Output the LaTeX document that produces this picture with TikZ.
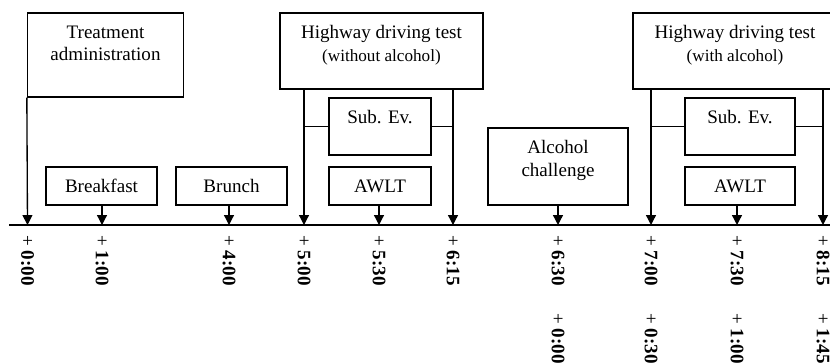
\documentclass[tikz,border=0pt]{standalone}
\usepackage{fontspec}
\setmainfont{Liberation Serif}
\usetikzlibrary{arrows.meta}
\usetikzlibrary{positioning}
\usetikzlibrary{calc}
\tikzstyle{event}=[rectangle, draw=black, line width=0.7pt, inner sep=0pt]
\tikzstyle{caption}=[align=center, anchor=north, inner sep=0pt, yshift=-6.8pt]
\tikzstyle{small}=+[event, minimum width=58.3pt, minimum height=19.95pt]
\tikzstyle{timelabel}=[rotate=-90, anchor=west, inner sep=0pt]
\begin{document}
\begin{tikzpicture}[x=0.525pt, y=-0.525pt, >={Triangle[width=5.2pt,length=5.2pt]}]
	\useasboundingbox (0,0) rectangle (830,364);
	% time axis
	\coordinate (start) at (9,225);
	\coordinate (end) at (832,225);
	\coordinate (t000) at (27.5,225);
	\coordinate (t100) at (102,225);
	\coordinate (t400) at (229,225);
	\coordinate (t500) at (304,225);
	\coordinate (t530) at (379,225);
	\coordinate (t615) at (453,225);
	\coordinate (t630) at (558,225);
	\coordinate (t700) at (651,225);
	\coordinate (t730) at (737,225);
	\coordinate (t815) at (823,225);
	\draw[line width=0.9pt] (start) -- (end);
	% events
	\node (treat) at (105.5,55) [event, minimum width=81.9pt, minimum height=44.1pt,
		label={[caption]north:Treatment\\administration}] {};
	\node (break) at (101.5,186) [small] {Breakfast};
	\node (brunch) at (231.5,186) [small] {Brunch};
	\node (hw1) at (381.5,51) [event, minimum width=106.6pt, minimum height=39.9pt,
		label={[caption]north:Highway driving test\\{\small(without alcohol)}}] {};
	\node (sub1) at (380,126.5) [event, minimum width=53.55pt, minimum height=29.9pt,
		label={[caption]north:Sub. Ev.}] {};
	\node (awlt1) at (380,186) [small, minimum width=53.55pt] {AWLT};
	\node (alc) at (558,166.5) [event, minimum width=73.5pt, minimum height=40.4pt,
		label={[caption]north:Alcohol\\challenge}] {};
	\node (hw2) at (735,51) [event, minimum width=107.1pt, minimum height=39.9pt,
		label={[caption]north:Highway driving test\\{\small(with alcohol)}}] {};
	\node (sub2) at (740,126.5) [event, minimum width=57.75pt, minimum height=29.9pt,
		label={[caption]north:Sub. Ev.}] {};
	\node (awlt2) at (740,186) [small, minimum width=57.75pt] {AWLT};
	% arrows to the axis
	\path[->, line width=0.7pt]
		(treat.south west) edge (t000)
		(break.south -| t100) edge (t100)
		(brunch.south -| t400) edge (t400)
		(hw1.south -| t500) edge (t500)
		(awlt1.south -| t530) edge (t530)
		(hw1.south -| t615) edge (t615)
		(alc.south -| t630) edge (t630)
		(hw2.south -| t700) edge (t700)
		(awlt2.south -| t730) edge (t730)
		(hw2.south -| t815) edge (t815);
	\path[line width=0.7pt]
		(sub1.west) edge (sub1.west -| t500)
		(sub1.east) edge (sub1.east -| t615)
		(sub2.west) edge (sub2.west -| t700)
		(sub2.east) edge (sub2.east -| t815);
	% time labels
	\node (l000) at ($(t000)+(0,10)$) [timelabel] {+ \textbf{0:00}};
	\node (l100) at ($(t100)+(0,10)$) [timelabel] {+ \textbf{1:00}};
	\node (l400) at ($(t400)+(0,10)$) [timelabel] {+ \textbf{4:00}};
	\node (l500) at ($(t500)+(0,10)$) [timelabel] {+ \textbf{5:00}};
	\node (l530) at ($(t530)+(0,10)$) [timelabel] {+ \textbf{5:30}};
	\node (l615) at ($(t615)+(0,10)$) [timelabel] {+ \textbf{6:15}};
	\node (l630) at ($(t630)+(0,10)$) [timelabel] {+ \textbf{6:30}};
	\node (l700) at ($(t700)+(0,10)$) [timelabel] {+ \textbf{7:00}};
	\node (l730) at ($(t730)+(0,10)$) [timelabel] {+ \textbf{7:30}};
	\node (l815) at ($(t815)+(0,10)$) [timelabel] {+ \textbf{8:15}};
	\node (m630) at ($(t630)+(0,88)$) [timelabel] {+ \textbf{0:00}};
	\node (m700) at ($(t700)+(0,88)$) [timelabel] {+ \textbf{0:30}};
	\node (m730) at ($(t730)+(0,88)$) [timelabel] {+ \textbf{1:00}};
	\node (m815) at ($(t815)+(0,88)$) [timelabel] {+ \textbf{1:45}};
\end{tikzpicture}
\end{document}
